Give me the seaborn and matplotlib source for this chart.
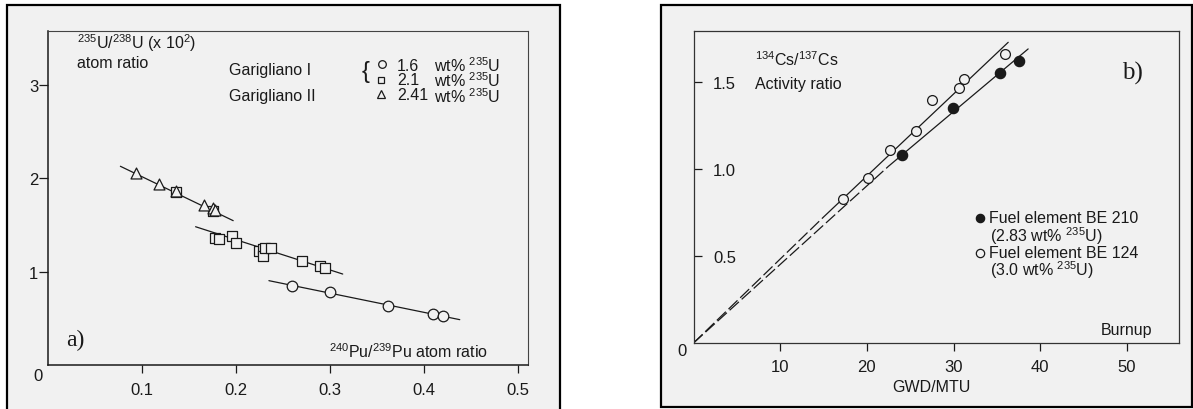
import matplotlib
matplotlib.use("Agg")
import matplotlib.pyplot as plt
import seaborn as sns
import pandas as pd
from matplotlib.lines import Line2D

# ---------------- Panel a) data ----------------
tri_x = [0.094, 0.118, 0.136, 0.166, 0.176, 0.178]
tri_y = [2.06, 1.94, 1.87, 1.715, 1.68, 1.66]
sq_x = [0.136, 0.176, 0.178, 0.182, 0.196, 0.200, 0.2245, 0.229, 0.2284, 0.231, 0.237, 0.270, 0.289, 0.295]
sq_y = [1.85, 1.65, 1.36, 1.355, 1.379, 1.308, 1.225, 1.243, 1.172, 1.254, 1.254, 1.111, 1.064, 1.036]
circ_x = [0.260, 0.300, 0.362, 0.410, 0.420]
circ_y = [0.850, 0.779, 0.635, 0.547, 0.525]
fit_tri_x = [0.077, 0.197]
fit_tri_y = [2.13, 1.547]
fit_sq_x = [0.157, 0.3135]
fit_sq_y = [1.482, 0.975]
fit_circ_x = [0.235, 0.438]
fit_circ_y = [0.904, 0.486]
a_xticks = [0.1, 0.2, 0.3, 0.4, 0.5]
a_xticklabels = ["0.1", "0.2", "0.3", "0.4", "0.5"]
a_yticks = [1, 2, 3]
a_yticklabels = ["1", "2", "3"]
enrich_labels = ["1.6", "2.1", "2.41"]

# ---------------- Panel b) data ----------------
be210_x = [24.0, 29.9, 35.4, 37.6]
be210_y = [1.079, 1.349, 1.550, 1.621]
be124_x = [17.2, 20.1, 22.7, 25.7, 27.5, 30.6, 31.2, 35.9]
be124_y = [0.828, 0.948, 1.111, 1.220, 1.397, 1.466, 1.517, 1.659]
fit124_x = [0.0, 15.0, 36.3]
fit124_y = [0.0, 0.724, 1.728]
fit210_x = [0.0, 22.5, 38.6]
fit210_y = [0.0, 1.016, 1.690]
b_xticks = [10, 20, 30, 40, 50]
b_xticklabels = ["10", "20", "30", "40", "50"]
b_yticks = [0.5, 1.0, 1.5]
b_yticklabels = ["0.5", "1.0", "1.5"]

sns.set_theme(style="white")
plt.rcParams["font.family"] = ["Liberation Sans", "DejaVu Sans"]
plt.rcParams["mathtext.fontset"] = "custom"
plt.rcParams["mathtext.rm"] = "Liberation Sans"
plt.rcParams["mathtext.it"] = "Liberation Sans:italic"
plt.rcParams["mathtext.bf"] = "Liberation Sans:bold"
plt.rcParams["mathtext.default"] = "regular"

W, H = 1193, 410
BG = "#f1f1f1"
INK = "#1a1a1a"
fig = plt.figure(figsize=(W / 100, H / 100), dpi=100)
fig.patch.set_facecolor("white")


def fx(px):
    return px / W


def fy(py):
    return 1 - py / H


# outer frames (scanned page boxes)
fig.patches.append(plt.Rectangle((fx(7), fy(412)), fx(560 - 7), (412 - 6) / H,
                                 transform=fig.transFigure, facecolor=BG,
                                 edgecolor="black", lw=1.6, zorder=-10))
fig.patches.append(plt.Rectangle((fx(661), fy(408)), fx(1192 - 661), (408 - 6) / H,
                                 transform=fig.transFigure, facecolor=BG,
                                 edgecolor="black", lw=1.6, zorder=-10))

# ---------------- Axes a ----------------
axa = fig.add_axes([fx(48), fy(366), fx(480), (366 - 32) / H])
axa.set_zorder(2)
axa.set_facecolor("none")
axa.set_xlim(0, 0.5106)
axa.set_ylim(0, 3.58)

line_kw = dict(color=INK, lw=0.9, estimator=None, sort=False, legend=False)
sns.lineplot(x=fit_tri_x, y=fit_tri_y, ax=axa, **line_kw)
sns.lineplot(x=fit_sq_x, y=fit_sq_y, ax=axa, **line_kw)
sns.lineplot(x=fit_circ_x, y=fit_circ_y, ax=axa, **line_kw)

mk = dict(facecolor=BG, edgecolor=INK, linewidth=0.9, legend=False, zorder=3)
sns.scatterplot(x=sq_x, y=sq_y, marker="s", s=50, ax=axa, **mk)
sns.scatterplot(x=tri_x, y=tri_y, marker="^", s=62, ax=axa, **mk)
sns.scatterplot(x=circ_x, y=circ_y, marker="o", s=58, ax=axa, **mk)

axa.set_xticks(a_xticks)
axa.set_xticklabels(a_xticklabels)
axa.set_yticks(a_yticks)
axa.set_yticklabels(a_yticklabels)
axa.tick_params(axis="x", direction="out", length=6, width=0.9, pad=6,
                labelsize=12, colors=INK, bottom=True)
axa.tick_params(axis="y", direction="out", length=6.5, width=0.9, pad=0.5,
                labelsize=12, colors=INK, left=True)
for side, sp in axa.spines.items():
    sp.set_color(INK if side in ("left", "bottom") else "#444444")
    sp.set_linewidth(1.1 if side in ("left", "bottom") else 0.8)
axa.set_xlabel("")
axa.set_ylabel("")

# texts panel a
fig.text(fx(38), fy(377), "0", fontsize=12, color=INK, ha="center", va="center")
fig.text(fx(77), fy(43), r"$^{235}$U/$^{238}$U (x 10$^{2}$)", fontsize=11.5,
         color=INK, ha="left", va="center")
fig.text(fx(77), fy(63), "atom ratio", fontsize=11.5, color=INK, ha="left", va="center")
fig.text(fx(229), fy(71), "Garigliano I", fontsize=11.5, color=INK, ha="left", va="center")
fig.text(fx(229), fy(97), "Garigliano II", fontsize=11.5, color=INK, ha="left", va="center")
fig.text(fx(366), fy(72), "{", fontsize=17, color=INK, ha="center", va="center",
         fontweight="light")
fig.add_artist(Line2D([fx(382)], [fy(65)], marker="o", ms=5.5, mfc=BG, mec=INK, mew=0.9,
                      transform=fig.transFigure))
fig.add_artist(Line2D([fx(381)], [fy(81)], marker="s", ms=5, mfc=BG, mec=INK, mew=0.9,
                      transform=fig.transFigure))
fig.add_artist(Line2D([fx(381)], [fy(95)], marker="^", ms=6, mfc=BG, mec=INK, mew=0.9,
                      transform=fig.transFigure))
fig.text(fx(397), fy(81), "\n".join(enrich_labels), fontsize=11.5, color=INK,
         ha="left", va="center", linespacing=0.98)
fig.text(fx(434), fy(81), "\n".join([r"wt% $^{235}$U"] * 3), fontsize=11.5, color=INK,
         ha="left", va="center", linespacing=0.80)
fig.text(fx(488), fy(352), r"$^{240}$Pu/$^{239}$Pu atom ratio", fontsize=11.5,
         color=INK, ha="right", va="center")
fig.text(fx(66), fy(340), "a)", fontsize=17, color=INK, ha="left", va="center",
         family=["Liberation Serif", "DejaVu Serif"])

# ---------------- Axes b ----------------
axb = fig.add_axes([fx(693.5), fy(344), fx(1179 - 693.5), (344 - 32) / H])
axb.set_zorder(2)
axb.set_facecolor("none")
axb.set_xlim(0, 56.0)
axb.set_ylim(0, 1.793)

lb = dict(color=INK, lw=0.9, estimator=None, sort=False, legend=False)
sns.lineplot(x=fit124_x[:2], y=fit124_y[:2], ax=axb, **lb)
sns.lineplot(x=fit124_x[1:], y=fit124_y[1:], ax=axb, **lb)
sns.lineplot(x=fit210_x[:2], y=fit210_y[:2], ax=axb, **lb)
sns.lineplot(x=fit210_x[1:], y=fit210_y[1:], ax=axb, **lb)
axb.lines[0].set_dashes((10, 3))
axb.lines[2].set_dashes((10, 3))

sns.scatterplot(x=be124_x, y=be124_y, marker="o", s=50, facecolor=BG, edgecolor=INK,
                linewidth=0.9, legend=False, zorder=3, ax=axb)
sns.scatterplot(x=be210_x, y=be210_y, marker="o", s=55, facecolor=INK, edgecolor=INK,
                linewidth=0.9, legend=False, zorder=3, ax=axb)

axb.set_xticks(b_xticks)
axb.set_xticklabels(b_xticklabels)
axb.set_yticks(b_yticks)
axb.set_yticklabels(b_yticklabels)
axb.tick_params(axis="x", direction="out", length=6, width=0.9, pad=5.5,
                labelsize=12, colors=INK, bottom=True)
axb.tick_params(axis="y", direction="in", length=6, width=0.9, pad=-14,
                labelsize=12, colors=INK, left=True)
for lbl in axb.get_yticklabels():
    lbl.set_horizontalalignment("left")
for side, sp in axb.spines.items():
    sp.set_color("#333333")
    sp.set_linewidth(0.9)
axb.set_xlabel("")
axb.set_ylabel("")

fig.text(fx(682), fy(352), "0", fontsize=12, color=INK, ha="center", va="center")
fig.text(fx(931), fy(388), "GWD/MTU", fontsize=11.5, color=INK, ha="center", va="center")
fig.text(fx(1152), fy(330), "Burnup", fontsize=11.5, color=INK, ha="right", va="center")
fig.text(fx(755), fy(60), r"$^{134}$Cs/$^{137}$Cs", fontsize=11.5, color=INK,
         ha="left", va="center")
fig.text(fx(755), fy(84), "Activity ratio", fontsize=11.5, color=INK, ha="left", va="center")
fig.text(fx(1122), fy(73), "b)", fontsize=18, color=INK, ha="left", va="center",
         family=["Liberation Serif", "DejaVu Serif"])

fig.add_artist(Line2D([fx(980)], [fy(219)], marker="o", ms=6, mfc=INK, mec=INK, mew=0.9,
                      transform=fig.transFigure))
fig.add_artist(Line2D([fx(980)], [fy(254)], marker="o", ms=6, mfc=BG, mec=INK, mew=0.9,
                      transform=fig.transFigure))
fig.text(fx(989), fy(219), "Fuel element BE 210", fontsize=11.5, color=INK, ha="left", va="center")
fig.text(fx(990), fy(236), r"(2.83 wt% $^{235}$U)", fontsize=11.5, color=INK, ha="left", va="center")
fig.text(fx(989), fy(254), "Fuel element BE 124", fontsize=11.5, color=INK, ha="left", va="center")
fig.text(fx(990), fy(270), r"(3.0 wt% $^{235}$U)", fontsize=11.5, color=INK, ha="left", va="center")

fig.savefig("out.png", dpi=100, facecolor="white")
